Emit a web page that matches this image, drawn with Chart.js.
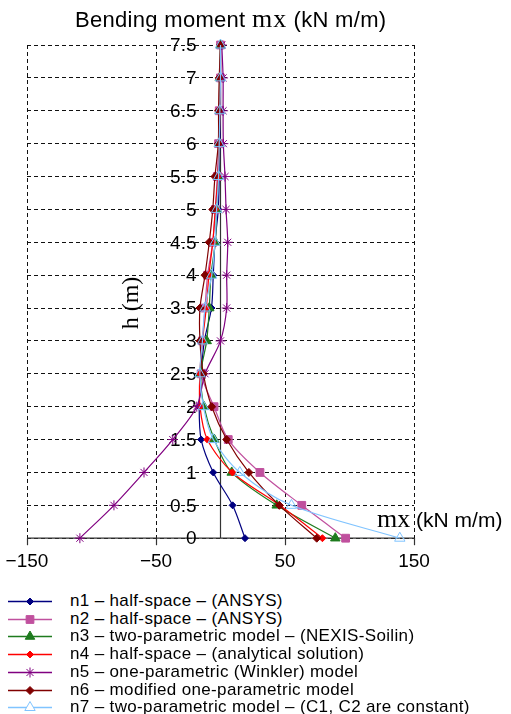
<!DOCTYPE html>
<html>
<head>
<meta charset="utf-8">
<script src="https://cdn.jsdelivr.net/npm/chart.js@4.4.1/dist/chart.umd.min.js"></script>
<style>
  html, body { margin: 0; padding: 0; background: #fff; }
  body { width: 511px; height: 714px; position: relative; overflow: hidden; font-family: "Liberation Sans", Arial, sans-serif; color: #000; }
  #wrap { position: absolute; left: 0; top: 0; width: 511px; height: 590px; }
  .lbl { position: absolute; white-space: nowrap; line-height: 1; }
  .serif { font-family: "Liberation Serif", "Times New Roman", serif; }
  #legend { position: absolute; left: 0; top: 591px; width: 511px; }
  .row { position: absolute; left: 0; height: 18px; width: 511px; }
  .row canvas { position: absolute; left: 6px; top: 0; }
  .row span { position: absolute; left: 70px; top: 0; font-size: 17px; line-height: 18px; letter-spacing: 0.35px; }
</style>
</head>
<body>
<div id="wrap"><canvas id="c" width="511" height="590"></canvas></div>
<div class="lbl" style="left:75px; top:6px; font-size:22px; letter-spacing:0.3px;">Bending moment <span class="serif" style="font-size:26px; letter-spacing:1px;">mx</span> (kN m/m)</div>
<div class="lbl serif" style="left:90px; top:290px; width:80px; height:26px; line-height:26px; text-align:center; font-size:24px; transform: rotate(-90deg);">h (m)</div>
<div class="lbl" style="left:377px; top:506px; font-size:21px;"><span class="serif" style="font-size:26px;">mx</span> (kN m/m)</div>
<div id="legend"></div>
<script>
// ---- data ----
const heights = [0, 0.5, 1, 1.5, 2, 2.5, 3, 3.5, 4, 4.5, 5, 5.5, 6, 6.5, 7, 7.5];
const n1 = [19, 9.4, -5.6, -15, -16.5, -15, -12.5, -7, -5.6, -4.3, -1.7, -1, -0.5, 0, 0, 0];
const n2 = [97, 63, 30.6, 6, -5, -15, -14, -12, -10, -6, -4, -2.5, -1.5, -1, 0, 0];
const n3 = [89, 43.6, 8.7, -4.8, -12.8, -15.3, -10.7, -8.7, -7.4, -4, -3, -1.7, -1, -0.5, -0.5, 0];
const n4 = [79, 46, 9.2, -10.2, -15.9, -16, -14, -11, -9, -6, -4, -2, -1, -0.5, 0, 0];
const n5 = [-109, -82.6, -59.3, -37, -18.4, -12, 0, 4.8, 4.8, 5.6, 4.3, 3.5, 2.2, 2, 2, 1];
const n6 = [74.6, 45.6, 22, 4.8, -6.8, -13.3, -15.9, -15.9, -12, -8.7, -6, -4.3, -1.7, -1.5, -1, 0];
const n7 = [139, 55, 15, -5.6, -13.3, -16, -14, -12, -6.8, -4.3, -3, -1.5, -1, -0.5, 0, 0];
const seriesNames = [
  "n1 \u2013 half-space \u2013 (ANSYS)",
  "n2 \u2013 half-space \u2013 (ANSYS)",
  "n3 \u2013 two-parametric model \u2013 (NEXIS-Soilin)",
  "n4 \u2013 half-space \u2013 (analytical solution)",
  "n5 \u2013 one-parametric (Winkler) model",
  "n6 \u2013 modified one-parametric model",
  "n7 \u2013 two-parametric model \u2013 (C1, C2 are constant)"
];
const xTicks = [-150, -50, 50, 150];

// ---- styles ----
const styles = [
  { color: '#000080', fill: '#000080', pointStyle: 'rectRot', radius: 3.5 },
  { color: '#C0509E', fill: '#C0509E', pointStyle: 'rect', radius: 5.5 },
  { color: '#1E7B1E', fill: '#1E7B1E', pointStyle: 'triangle', radius: 5.5 },
  { color: '#FF0000', fill: '#FF0000', pointStyle: 'rectRot', radius: 3.5 },
  { color: '#800080', fill: '#800080', pointStyle: 'star', radius: 5 },
  { color: '#800000', fill: '#800000', pointStyle: 'rectRot', radius: 4 },
  { color: '#80C4FF', fill: 'rgba(255,255,255,0)', pointStyle: 'triangle', radius: 6 }
];
const allSeries = [n1, n2, n3, n4, n5, n6, n7];

const datasets = allSeries.map((vals, i) => ({
  label: seriesNames[i],
  data: vals.map((v, k) => ({ x: v, y: heights[k] })),
  showLine: true,
  borderColor: styles[i].color,
  backgroundColor: styles[i].fill,
  pointBorderColor: styles[i].color,
  pointBackgroundColor: styles[i].fill,
  pointStyle: styles[i].pointStyle,
  pointRadius: styles[i].radius,
  pointBorderWidth: 1,
  borderWidth: 1.2,
  tension: 0.3,
  clip: false,
  order: 6 - i
}));

const TICK_FONT = '19px "Liberation Sans", Arial, sans-serif';

// axis lines (solid) and y tick labels beside the x=0 axis
const axisPlugin = {
  id: 'axisPlugin',
  beforeDatasetsDraw(chart) {
    const { ctx, scales: { x, y } } = chart;
    const x0 = x.getPixelForValue(0);
    ctx.save();
    ctx.strokeStyle = '#333';
    ctx.lineWidth = 1.2;
    ctx.setLineDash([]);
    ctx.beginPath();
    ctx.moveTo(x.left, y.getPixelForValue(0));
    ctx.lineTo(x.right, y.getPixelForValue(0));
    ctx.moveTo(x0, y.getPixelForValue(0));
    ctx.lineTo(x0, y.getPixelForValue(7.5));
    ctx.stroke();
    ctx.fillStyle = '#000';
    ctx.font = TICK_FONT;
    ctx.textAlign = 'right';
    ctx.textBaseline = 'middle';
    y.ticks.forEach(t => {
      ctx.fillText(String(t.value), x0 - 24, y.getPixelForValue(t.value) + 1);
    });
    ctx.restore();
  }
};

const dashColor = '#111';
new Chart(document.getElementById('c'), {
  type: 'scatter',
  data: { datasets },
  plugins: [axisPlugin],
  options: {
    responsive: false,
    animation: false,
    devicePixelRatio: 1,
    layout: { padding: { left: 27, right: 97, top: 45, bottom: 12 } },
    plugins: { legend: { display: false }, tooltip: { enabled: false }, title: { display: false } },
    scales: {
      x: {
        type: 'linear', position: 'bottom', min: -150, max: 150,
        afterBuildTicks: (s) => { s.ticks = xTicks.map(v => ({ value: v })); },
        ticks: {
          color: '#000', padding: 5, maxRotation: 0,
          font: { family: '"Liberation Sans", Arial, sans-serif', size: 19 },
          callback: (v) => (v < 0 ? '\u2212' + Math.abs(v) : String(v))
        },
        grid: { color: dashColor, lineWidth: 1, tickLength: 7, tickBorderDash: [], tickColor: '#333', tickWidth: 1.2 },
        border: { display: false, dash: [4, 3] }
      },
      y: {
        type: 'linear', position: { x: 0 }, min: 0, max: 7.5,
        ticks: { stepSize: 0.5, display: false },
        grid: { color: dashColor, lineWidth: 1, drawTicks: false },
        border: { display: false, dash: [4, 3] }
      }
    }
  }
});

// ---- HTML legend ----
const legend = document.getElementById('legend');
seriesNames.forEach((name, i) => {
  const row = document.createElement('div');
  row.className = 'row';
  row.style.top = (1 + i * 17.7) + 'px';
  const cv = document.createElement('canvas');
  cv.width = 50; cv.height = 18;
  row.appendChild(cv);
  const sp = document.createElement('span');
  sp.textContent = name;
  row.appendChild(sp);
  legend.appendChild(row);
  const ctx = cv.getContext('2d');
  ctx.strokeStyle = styles[i].color; ctx.lineWidth = 1.5;
  ctx.beginPath(); ctx.moveTo(2, 9.5); ctx.lineTo(46, 9.5); ctx.stroke();
  ctx.fillStyle = i === 6 ? '#FFFFFF' : styles[i].fill;
  ctx.lineWidth = 1;
  Chart.helpers.drawPoint(ctx, { pointStyle: styles[i].pointStyle, radius: styles[i].radius, borderWidth: 1, rotation: 0 }, 24, 9.5);
});
</script>
</body>
</html>
